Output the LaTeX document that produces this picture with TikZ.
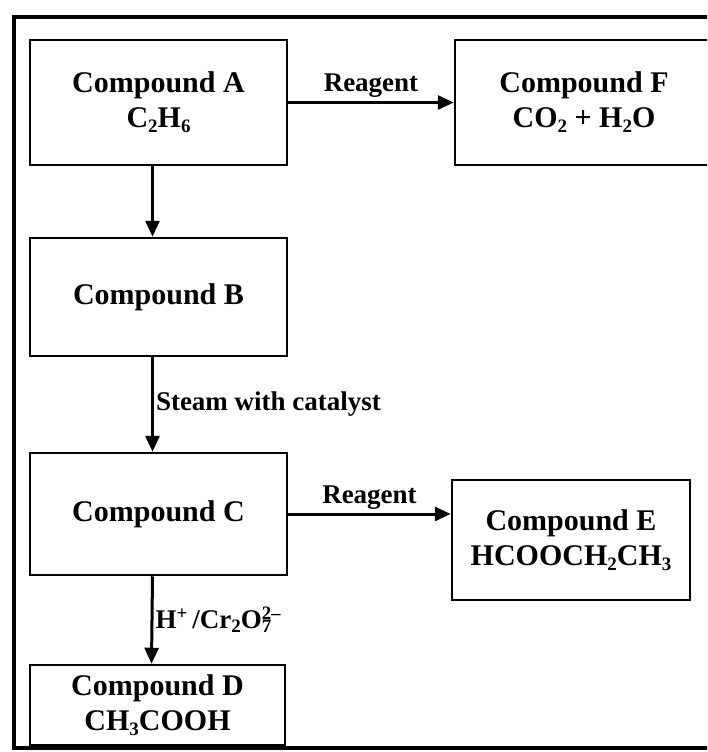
\documentclass[tikz,border=0pt]{standalone}
\usepackage{fontspec}
\setmainfont{Liberation Serif}
\usetikzlibrary{arrows.meta}

% small chemical subscript, set low as in the scan
\newcommand{\chsub}[1]{\raisebox{-0.35ex}{\fontsize{19}{19}\selectfont #1}}

\begin{document}
\begin{tikzpicture}[x=1pt, y=-1pt,
    every node/.style={font=\bfseries\fontsize{30}{35}\selectfont, align=center},
    box/.style={rectangle, draw, line width=2.5pt, minimum width=257pt},
    arr/.style={-{Triangle[length=16pt,width=14pt]}, line width=3pt},
    lab/.style={font=\bfseries\fontsize{27}{32}\selectfont}
]

\clip (0,0) rectangle (707,752);
\draw [line width=4pt] (14,17) rectangle (740,748);

\node [box, minimum height=125pt] (A) at (158.5,102.5) {Compound A\\C\chsub{2}H\chsub{6}};
\node [box, minimum width=258pt, minimum height=125pt] (F) at (584,102.5) {Compound F\\CO\chsub{2} + H\chsub{2}O};
\node [box, minimum height=118pt] (B) at (158.5,297) {Compound B};
\node [box, minimum height=122pt] (C) at (158.5,514) {Compound C};
\node [box, minimum width=238pt, minimum height=120pt] (E) at (571,540) {Compound E\\HCOOCH\chsub{2}CH\chsub{3}};
\node [box, minimum width=255pt, minimum height=80pt, inner sep=2pt] (D) at (157.5,705) {Compound D\\CH\chsub{3}COOH};

\draw [arr] (A.east) -- node [lab, above] {Reagent} (F.west);
\draw [arr] ([xshift=-6pt]A.south) -- ([xshift=-6pt]B.north);
\draw [arr] ([xshift=-6pt]B.south) -- node [lab, right, inner sep=2pt] {Steam with catalyst} ([xshift=-6pt]C.north);
\draw [arr] (C.east) -- node [lab, above] {Reagent} (C.east -| E.west);
\draw [arr] ([xshift=-6pt]C.south) -- node [lab, right, inner sep=2pt] {H\textsuperscript{+}\,/Cr\chsub{2}O\rlap{\chsub{7}}\textsuperscript{2--}} ([xshift=-6pt]D.north);

\end{tikzpicture}
\end{document}
